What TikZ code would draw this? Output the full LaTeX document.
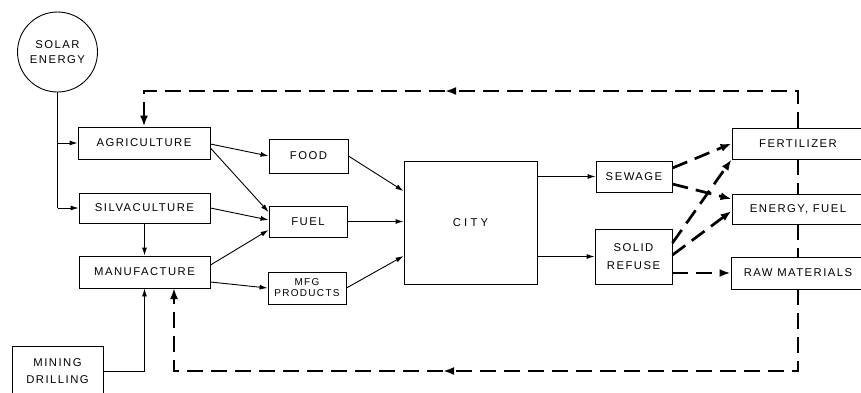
\documentclass[tikz,border=0pt]{standalone}
\usepackage{fontspec}
\newfontfamily\labfont[LetterSpace=13]{Liberation Sans}
\newfontfamily\cityfont[LetterSpace=28]{Liberation Sans}
\usetikzlibrary{arrows.meta}
\begin{document}
\begin{tikzpicture}[x=1pt,y=-1pt,
 box/.style={draw,line width=0.9pt,inner sep=0pt,font=\labfont\fontsize{11.3}{15}\selectfont,align=center},
 arr/.style={line width=0.9pt,-{Latex[length=8pt,width=5pt]}},
 darr/.style={line width=2.7pt,dash pattern=on 16pt off 8pt,-{Latex[length=11pt,width=8pt]}},
 dline/.style={line width=2.7pt,dash pattern=on 16pt off 8pt}]
\useasboundingbox (0,0) rectangle (861,392);

% nodes
\node[box,circle,minimum size=80pt] (solar) at (57.5,52) {SOLAR\\ENERGY};
\node[box,minimum width=132pt,minimum height=32pt] (agri) at (144,143) {AGRICULTURE};
\node[box,minimum width=131pt,minimum height=30pt] (silva) at (144.5,208) {SILVACULTURE};
\node[box,minimum width=131pt,minimum height=32pt] (manu) at (144.5,272) {MANUFACTURE};
\node[box,minimum width=91pt,minimum height=50pt,font=\labfont\fontsize{11.3}{17}\selectfont] (mining) at (57.5,371) {MINING\\DRILLING};
\node[box,minimum width=79pt,minimum height=34pt] (food) at (308.5,156) {FOOD};
\node[box,minimum width=78pt,minimum height=31pt] (fuel) at (308,221.5) {FUEL};
\node[box,minimum width=78pt,minimum height=32pt,font=\labfont\fontsize{10}{11}\selectfont] (mfg) at (307,288) {MFG\\PRODUCTS};
\node[box,minimum width=133pt,minimum height=123pt,font=\cityfont\fontsize{11.3}{15}\selectfont] (city) at (470.5,222.5) {CITY};
\node[box,minimum width=76pt,minimum height=31pt] (sewage) at (634,176.5) {SEWAGE};
\node[box,minimum width=77pt,minimum height=55pt,font=\labfont\fontsize{11.3}{18}\selectfont] (solid) at (633.5,256.5) {SOLID\\REFUSE};
\node[box,minimum width=132pt,minimum height=31pt] (fert) at (798,143.5) {FERTILIZER};
\node[box,minimum width=132pt,minimum height=30pt] (energy) at (798,209) {ENERGY, FUEL};
\node[box,minimum width=134pt,minimum height=32pt] (raw) at (798,273) {RAW MATERIALS};

% solar feed
\draw[line width=0.9pt] (solar.south) -- (solar.south |- silva.west);
\draw[arr] (solar.south |- silva.west) -- (silva.west);
\draw[arr] (solar.south |- agri.west) -- (agri.west);
\draw[arr] (silva.south) -- (manu.north);
\draw[arr] (mining.east) -| (manu.south);

% to products
\draw[arr] ([yshift=-1pt]agri.east) -- (food.west);
\draw[arr] ([yshift=-5pt]agri.east) -- ([yshift=9.5pt]fuel.west);
\draw[arr] (silva.east) -- ([yshift=1.5pt]fuel.west);
\draw[arr] ([yshift=7pt]manu.east) -- ([yshift=-8.5pt]fuel.west);
\draw[arr] ([yshift=-10pt]manu.east) -- (mfg.west);

% to city
\draw[arr] (food.east) -- ([yshift=31.5pt]city.west);
\draw[arr] (fuel.east) -- (city.west |- fuel.east);
\draw[arr] (mfg.east) -- ([yshift=-33.5pt]city.west);

% from city
\draw[arr] (city.east |- sewage.west) -- (sewage.west);
\draw[arr] (city.east |- solid.west) -- (solid.west);

% recycling (dashed)
\draw[darr] ([yshift=8.5pt]sewage.east) -- (fert.west);
\draw[darr] ([yshift=-7.5pt]sewage.east) -- ([yshift=10pt]energy.west);
\draw[darr] ([yshift=13.5pt]solid.east) -- (fert.south west);
\draw[darr] ([yshift=1.5pt]solid.east) -- ([yshift=-2pt]energy.west);
\draw[darr] ([yshift=-16.5pt]solid.east) -- (raw.west |- 0,273);

% feedback loops
\coordinate (tr) at (798,91);
\coordinate (tm) at (445,91);
\coordinate (br) at (798,371);
\coordinate (bm) at (443,371);
\coordinate (mb) at (174,288);
\draw[darr] (fert.north) -- (tr) -- (tm);
\draw[darr] (tm) -- (tm -| agri.north) -- (agri.north);
\draw[dline] (fert.south) -- (energy.north);
\draw[dline] (energy.south) -- (raw.north);
\draw[darr] (raw.south) -- (br) -- (bm);
\draw[darr] (bm) -- (bm -| mb) -- (mb);
\end{tikzpicture}
\end{document}
